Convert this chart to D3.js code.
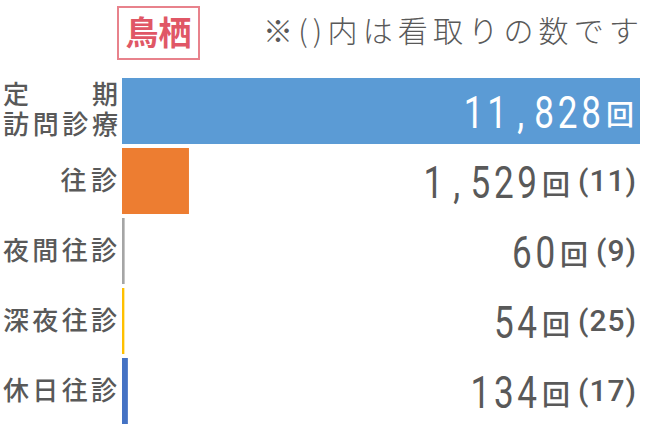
<!DOCTYPE html>
<html><head><meta charset="utf-8">
<script src="https://cdn.jsdelivr.net/npm/d3@7"></script>
<style>body{margin:0;background:#fff}svg{display:block}</style>
</head><body>
<svg id="c" width="648" height="444"></svg>
<script>
const categories = ["定期訪問診療", "往診", "夜間往診", "深夜往診", "休日往診"];
const counts = [11828, 1529, 60, 54, 134];
const mitori = [null, 11, 9, 25, 17];
const colors = ["#5B9BD5", "#ED7D31", "#A5A5A5", "#FFC000", "#4472C4"];
const title = "鳥栖";
const note = "※()内は看取りの数です";
const unit = "回";

const svg = d3.select("#c");
const textColor = "#595959";

const x = d3.scaleLinear().domain([0, d3.max(counts)]).range([122, 640]);
const y = d3.scaleBand().domain(categories).range([76, 426]).paddingInner(0.057).paddingOuter(0.0285);

// title box
svg.append("rect").attr("x", 118).attr("y", 7).attr("width", 81).attr("height", 52)
  .attr("fill", "none").attr("stroke", "#E8828C").attr("stroke-width", 2);
svg.append("text").attr("x", 158.5).attr("y", 45).attr("text-anchor", "middle")
  .attr("font-family", "Noto Sans CJK JP").attr("font-weight", 700).attr("font-size", 33)
  .attr("fill", "#E05766").text(title);
svg.append("text").attr("x", 263).attr("y", 42)
  .attr("font-family", "Noto Sans CJK JP").attr("font-weight", 300).attr("font-size", 30)
  .attr("fill", textColor).attr("textLength", 376).attr("lengthAdjust", "spacing").text(note);

// bars
svg.selectAll("rect.bar").data(categories).join("rect").attr("class", "bar")
  .attr("x", x(0)).attr("y", d => y(d))
  .attr("width", (d, i) => x(counts[i]) - x(0))
  .attr("height", y.bandwidth())
  .attr("fill", (d, i) => colors[i]);

// category labels
const labFs = 26;
categories.forEach((c, i) => {
  const cy = y(c) + y.bandwidth() / 2;
  const t = svg.append("text").attr("font-family", "Noto Sans CJK JP").attr("font-weight", 500)
    .attr("font-size", labFs).attr("fill", textColor);
  if (c.length > 4) {
    const top = c.slice(0, 2), bottom = c.slice(2);
    const y1 = cy - 16 + 0.36 * labFs, y2 = cy + 14 + 0.36 * labFs;
    t.append("tspan").attr("x", 3).attr("y", y1).text(top[0]);
    t.append("tspan").attr("x", 118 - labFs).attr("y", y1).text(top[1]);
    t.append("tspan").attr("x", 3).attr("y", y2)
      .attr("letter-spacing", (115 - bottom.length * labFs) / (bottom.length - 1)).text(bottom);
  } else {
    const w = c.length * 28.75;
    t.attr("x", 118 - w).attr("y", cy + 0.36 * labFs)
      .attr("textLength", w - 1).attr("lengthAdjust", "spacing").text(c);
  }
});

// value labels
const fmt = d3.format(",");
const pitch = 23.5, sx = 0.78;
categories.forEach((c, i) => {
  const cy = y(c) + y.bandwidth() / 2;
  const inside = mitori[i] == null;
  const fill = inside ? "#fff" : textColor;
  let right = inside ? 634 : 637;
  if (!inside) {
    const p = svg.append("text").attr("x", right).attr("y", cy + 10)
      .attr("text-anchor", "end").attr("font-family", "Roboto").attr("font-weight", 500).attr("font-size", 30)
      .attr("letter-spacing", 1).attr("fill", fill).text("(" + mitori[i] + ")");
    right = right - p.node().getComputedTextLength() - 8;
  }
  const u = svg.append("text").attr("x", right).attr("y", cy + 14)
    .attr("text-anchor", "end").attr("font-family", "Noto Sans CJK JP").attr("font-weight", 500)
    .attr("font-size", 28).attr("fill", fill).text(unit);
  right = right - u.node().getComputedTextLength() - 3;
  const s = fmt(counts[i]);
  const n = s.length;
  const xs = s.split("").map((ch, k) => ((right - (n - k - 0.5) * pitch)) / sx);
  svg.append("g").attr("transform", `translate(0,${cy + 16.5}) scale(${sx},1)`)
    .append("text").attr("x", xs.join(" ")).attr("y", 0)
    .attr("text-anchor", "middle").attr("font-family", "Roboto").attr("font-size", 45)
    .attr("fill", fill).text(s);
});
</script>
</body></html>
